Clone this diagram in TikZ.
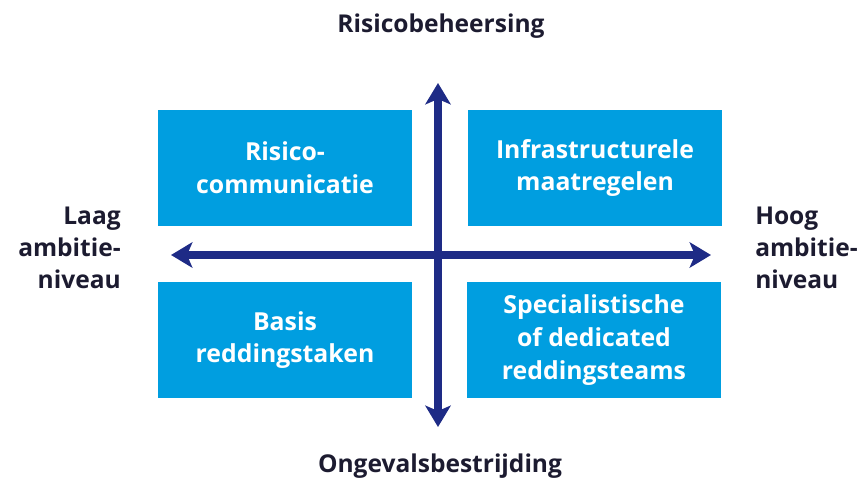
\documentclass[tikz,border=0pt]{standalone}
\usepackage{fontspec}
\setmainfont{Open Sans}
\usetikzlibrary{arrows.meta}
\definecolor{boxblue}{HTML}{009EE0}
\definecolor{axisblue}{HTML}{1E2B86}
\definecolor{labelink}{HTML}{1C1B30}
\begin{document}
\begin{tikzpicture}[x=0.75pt, y=-0.75pt,
	quadrant/.style={fill=boxblue, text=white, align=center, inner sep=0pt,
		minimum width=190pt, minimum height=87pt,
		font=\bfseries\fontsize{18.6}{24.5}\selectfont},
	axislabel/.style={text=labelink, inner sep=0pt,
		font=\bfseries\fontsize{18.4}{23.8}\selectfont},
	axis/.style={draw=axisblue, line width=5.6pt,
		>={Stealth[length=16pt, width=19pt, inset=4pt]}, <->}]
	\useasboundingbox (0,0) rectangle (862,482);
	\node [quadrant] (risico) at (285,168) {Risico-\\communicatie};
	\node [quadrant] (infra)  at (595,168) {Infrastructurele\\maatregelen};
	\node [quadrant] (basis)  at (285,340) {Basis\\reddingstaken};
	\node [quadrant] (special) at (594,340) {Specialistische\\of dedicated\\reddingsteams};
	\coordinate (top)    at (438,83);
	\coordinate (bottom) at (438,427);
	\coordinate (left)   at (171,255);
	\coordinate (right)  at (711,255);
	\draw [axis] (bottom) -- (top);
	\draw [axis] (left) -- (right);
	\node [axislabel] (beheersing) at (441,26) {Risicobeheersing};
	\node [axislabel] (bestrijding) at (440,466) {Ongevalsbestrijding};
	\node [axislabel, align=right, anchor=east] (laag) at (121,248) {Laag\\ambitie-\\niveau};
	\node [axislabel, align=left, anchor=west] (hoog) at (755,248) {Hoog\\ambitie-\\niveau};
\end{tikzpicture}
\end{document}
